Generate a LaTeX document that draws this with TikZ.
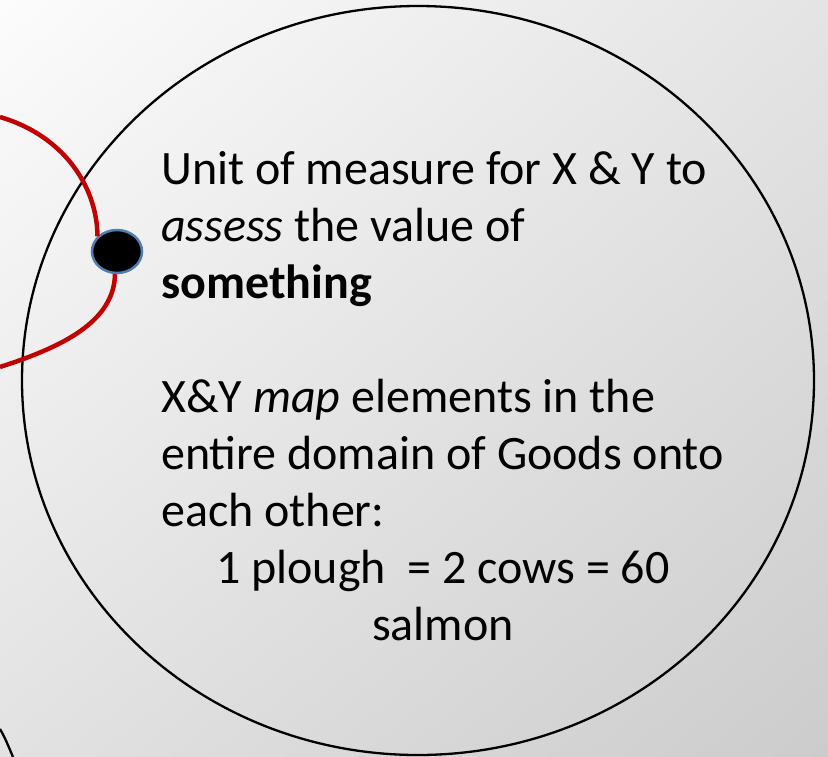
\documentclass[tikz,border=0pt]{standalone}
\usepackage{fontspec}
\setmainfont{Carlito}
\usetikzlibrary{shapes.geometric,shadings}
\definecolor{bgUL}{RGB}{252,252,252}
\definecolor{bgUR}{RGB}{228,228,228}
\definecolor{bgLL}{RGB}{226,226,226}
\definecolor{bgLR}{RGB}{204,204,204}
\definecolor{darkred}{RGB}{192,0,0}
\definecolor{dotborder}{RGB}{80,126,174}
\tikzset{
  txt/.style={font=\fontsize{48}{57}\selectfont, inner sep=0pt, text=black},
  redline/.style={draw=darkred, line width=4.5pt},
  outline/.style={draw=black, line width=2.3pt},
}
\begin{document}
\begin{tikzpicture}[x=1pt,y=-1pt]
\useasboundingbox (0,0) rectangle (828,756);
\shade[upper left=bgUL, upper right=bgUR, lower left=bgLL, lower right=bgLR] (0,0) rectangle (828,756);
% big ellipse
\draw[outline] (418,380.5) ellipse [x radius=396pt, y radius=374.5pt];
% partial curve bottom-left
\coordinate (bl1) at (0,729);
\coordinate (bl2) at (13,757);
\draw[outline] (bl1) .. controls (5,738) .. (bl2);
% dot
\node[ellipse, draw=dotborder, fill=black, line width=2.5pt, minimum width=50pt, minimum height=43pt, inner sep=0pt] (dot) at (117,251.5) {};
% red curves
\coordinate (r1) at (0,117);
\coordinate (r2) at (0,367);
\draw[redline] (r1) .. controls (62,135) and (97,185) .. (dot.142);
\draw[redline] (dot.265) .. controls (114,322) and (62,347) .. (r2);
% text
\node[txt, anchor=base west] (l1) at (161,184) {Unit of measure for X \& Y to};
\node[txt, anchor=base west] (l2) at (161,241) {\textit{assess} the value of};
\node[txt, anchor=base west] (l3) at (161,298) {\textbf{something}};
\node[txt, anchor=base west] (l4) at (161,412) {X\&Y \textit{map} elements in the};
\node[txt, anchor=base west] (l5) at (161,469) {entire domain of Goods onto};
\node[txt, anchor=base west] (l6) at (161,526) {each other:};
\node[txt, anchor=base] (l7) at (443,583) {1 plough\ \ = 2 cows = 60};
\node[txt, anchor=base] (l8) at (443,640) {salmon};
\end{tikzpicture}
\end{document}
